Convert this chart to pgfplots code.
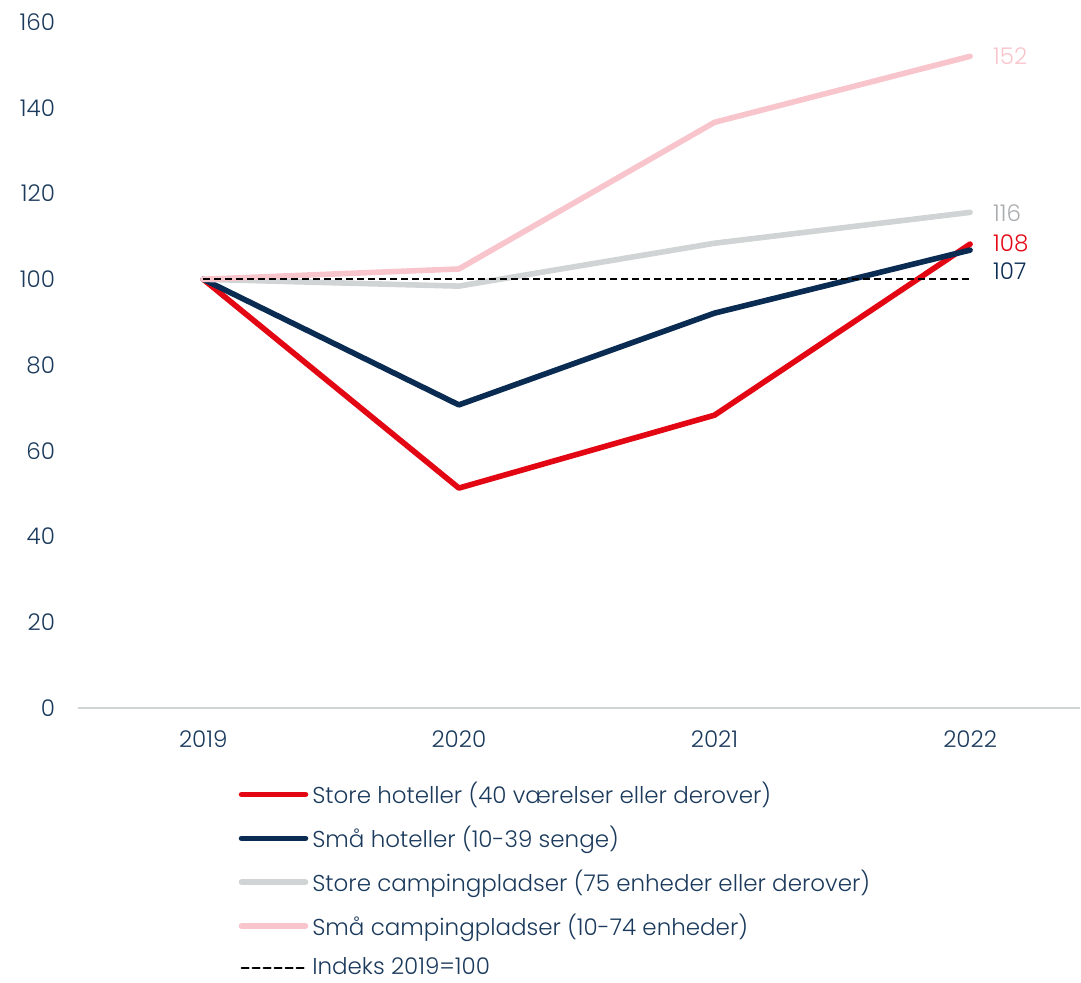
\documentclass[border=0pt]{standalone}
\usepackage{pgfplots}
\pgfplotsset{compat=1.18}
\usepackage{fontspec}
\setmainfont{Poppins}[UprightFont=* Light]
\definecolor{cred}{HTML}{E30613}
\definecolor{cnavy}{HTML}{0B2C52}
\definecolor{cgray}{HTML}{D1D4D4}
\definecolor{cpink}{HTML}{F8C5CC}
\definecolor{ctext}{HTML}{1B3A5C}
\definecolor{cgraytext}{HTML}{A9ACAE}
\begin{document}
\begin{tikzpicture}
\begin{axis}[
  scale only axis,
  width=501pt, height=343pt,
  xmin=-0.49, xmax=3.43,
  ymin=0, ymax=160,
  axis x line*=bottom,
  axis y line*=left,
  x axis line style={draw=cgray, line width=1pt, -},
  y axis line style={draw=none},
  xtick={0,1,2,3},
  xticklabels={2019,2020,2021,2022},
  ytick={0,20,...,160},
  major tick length=0pt,
  tick style={draw=none},
  /pgf/number format/assume math mode=true,
  /pgf/number format/1000 sep={},
  ticklabel style={font=\fontsize{11.5}{13}\selectfont, text=ctext},
  xticklabel style={yshift=-8pt},
  yticklabel style={xshift=-8pt},
  clip=false,
  legend style={draw=none, fill=none, at={(rel axis cs:0.154,-0.096)}, anchor=north west,
    font=\fontsize{11.5}{13}\selectfont, text=ctext, row sep=5.7pt,
    /tikz/every even column/.append style={column sep=0pt}},
  legend cell align=left,
  legend image code/.code={\draw[#1, line cap=round] (0pt,0pt) -- (32pt,0pt);},
]
\addplot[cred, line width=2.8pt, line cap=round, line join=round] coordinates {(0,100) (1,51.3) (2,68.3) (3,108.2)};
\addlegendentry{Store hoteller (40 værelser eller derover)}
\addplot[cnavy, line width=2.8pt, line cap=round, line join=round] coordinates {(0,100) (1,70.7) (2,92.1) (3,106.8)};
\addlegendentry{Små hoteller (10-39 senge)}
\addplot[cgray, line width=2.8pt, line cap=round, line join=round] coordinates {(0,100) (1,98.4) (2,108.4) (3,115.6)};
\addlegendentry{Store campingpladser (75 enheder eller derover)}
\addplot[cpink, line width=2.8pt, line cap=round, line join=round] coordinates {(0,100) (1,102.4) (2,136.6) (3,152.0)};
\addlegendentry{Små campingpladser (10-74 enheder)}
\addplot[black, line width=1pt, dash pattern=on 3.5pt off 2pt] coordinates {(0,100) (3,100)};
\addlegendentry{Indeks 2019=100}
\node[anchor=west, text=cpink, font=\fontsize{11.5}{13}\selectfont] at (axis cs:3,152) [xshift=8pt] {152};
\node[anchor=west, text=cgraytext, font=\fontsize{11.5}{13}\selectfont] at (axis cs:3,115.5) [xshift=8pt] {116};
\node[anchor=west, text=cred, font=\fontsize{11.5}{13}\selectfont] at (axis cs:3,108.3) [xshift=8pt] {108};
\node[anchor=west, text=cnavy, font=\fontsize{11.5}{13}\selectfont] at (axis cs:3,102.0) [xshift=8pt] {107};
\end{axis}
\pgfresetboundingbox
\path[use as bounding box] (-39pt,-137pt) rectangle (501.5pt,354pt);
\end{tikzpicture}
\end{document}
